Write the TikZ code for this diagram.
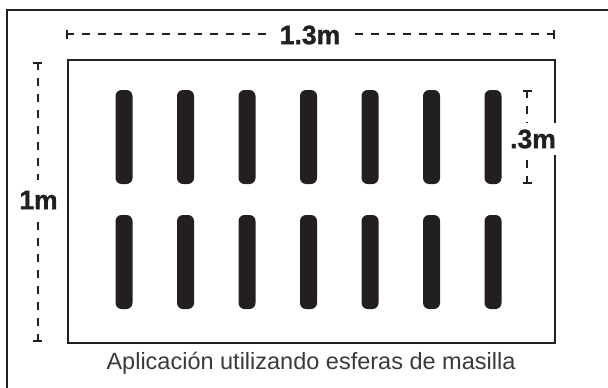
\documentclass[tikz,border=0pt]{standalone}
\usepackage{fontspec}
\setmainfont{Liberation Sans}
\usetikzlibrary{arrows.meta,positioning}
\definecolor{ink}{HTML}{231F20}
\definecolor{captgray}{HTML}{3A3A3A}

\begin{document}
\begin{tikzpicture}[x=1pt,y=-1pt,every node/.style={inner sep=0pt,font=\fontsize{26.5}{30}\selectfont\bfseries\addfontfeature{FakeBold=1.2},text=ink},dimline/.style={draw=ink,line width=2pt,dash pattern=on 8pt off 8pt},dimtick/.style={draw=ink,line width=1.8pt,arrows={Bar[width=9pt]-}},bar/.style={fill=ink,rounded corners=6pt}]
\useasboundingbox (0,0) rectangle (608,388);

% frame, top and left only
\draw[ink,line width=2pt] (6.5,388) -- (6.5,9.5) -- (608,9.5);
% sheet
\draw[ink,line width=1.8pt] (68,60) rectangle (555,343);

% putty strips
\foreach \i in {0,...,6}{
    \fill[bar] (115.5+61.5*\i,90) rectangle ++(17,94);
    \fill[bar] (115.5+61.5*\i,215) rectangle ++(17,94);
}

% width
\coordinate (wl) at (66,34);
\coordinate (wr) at (555,34);
\node [fill=white,inner xsep=12pt] (wlabel) at (310,35){1.3m};
\draw[dimtick] (wl) -- ++(0.1,0);
\draw[dimtick] (wr) -- ++(-0.1,0);
\path[dimline] (wl) -- (wl -| wlabel.west);
\path[dimline] (wr) -- (wr -| wlabel.east);

% height
\coordinate (ht) at (37.5,62);
\coordinate (hb) at (37.5,342);
\node [fill=white,inner ysep=11pt] (hlabel) at (38.5,200){1m};
\draw[dimtick] (ht) -- ++(0,0.1);
\draw[dimtick] (hb) -- ++(0,-0.1);
\path[dimline] (ht) -- (ht |- hlabel.north);
\path[dimline] (hb) -- (hb |- hlabel.south);

% strip length
\coordinate (st) at (527,90);
\coordinate (sb) at (527,183.5);
\node [fill=white,inner ysep=7pt,inner xsep=1.5pt] (slabel) at (533,139){.3m};
\draw[dimtick] (st) -- ++(0,0.1);
\draw[dimtick] (sb) -- ++(0,-0.1);
\path[dimline] (st) -- (st |- slabel.north);
\path[dimline] (sb) -- (sb |- slabel.south);

\node [font=\fontsize{23.5}{27}\selectfont,text=captgray,anchor=base] (caption) at (311,369){Aplicación utilizando esferas de masilla};
\end{tikzpicture}
\end{document}
